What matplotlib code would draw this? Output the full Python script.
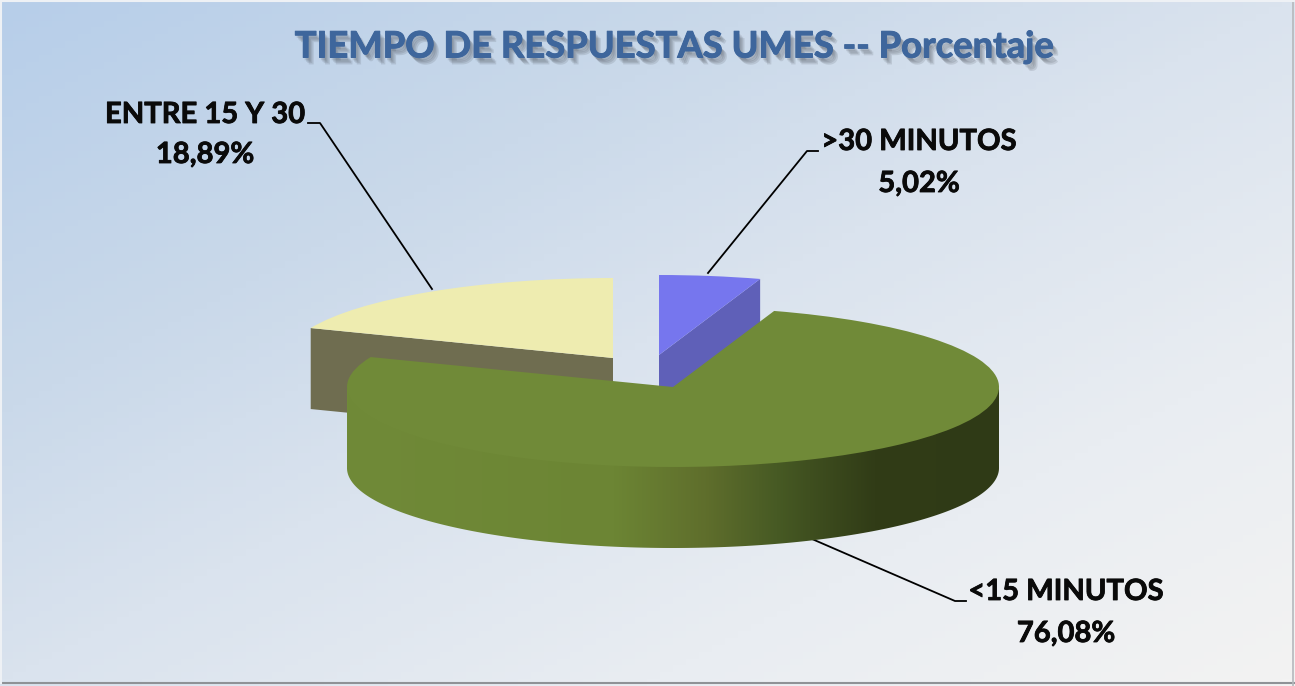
# Porcentaje de tiempos de respuesta, tarta 3D hecha a mano con ax.pie aplastado

import matplotlib
matplotlib.use('Agg')
import matplotlib.pyplot as plt
import matplotlib.patheffects as pe
from matplotlib.colors import LinearSegmentedColormap
from matplotlib.patches import Polygon
import numpy as np

labels = ['>30 MINUTOS', '<15 MINUTOS', 'ENTRE 15 Y 30']
shares = [5.02, 76.08, 18.89]
share_text = ['5,02%', '76,08%', '18,89%']
title = 'TIEMPO DE RESPUESTAS UMES -- Porcentaje'

top_colors = ['#7676ee', '#708a38', '#eeecb0']
wall_colors = ['#5f60b8', '#708a38', '#6f6d50']

W, H = 1295, 686
cx, cy, a, b, depth = 673., 387., 326., 80., 81.

plt.rcParams['font.family'] = ['Lato', 'DejaVu Sans']

fig = plt.figure(figsize=(W/100., H/100.), dpi=100)
ax = fig.add_axes([0, 0, 1, 1])

wedges, _ = ax.pie(shares, colors=top_colors, startangle=90, counterclock=False, radius=1.)
ax.set_aspect('auto')
ax.axis('off')

xlim = ((0-cx)/a, (W-cx)/a)
ylim = ((cy-H)/b, cy/b)


def px(x, y):
    return (x-cx)/a, (cy-y)/b


d = depth/b

# fondo degradado en diagonal
bg_cmap = LinearSegmentedColormap.from_list('bg', [(0, '#b7cee9'), (.3, '#cad9ea'), (.5, '#dae3ee'),
                                                   (.75, '#e9edf2'), (1, '#f3f3f3')])
yy, xx = np.mgrid[0:1:100j, 0:1:100j]
ax.imshow((xx+yy)/2., cmap=bg_cmap, extent=(xlim[0], xlim[1], ylim[0], ylim[1]), origin='upper',
          aspect='auto', zorder=0, vmin=0, vmax=1)

# porciones separadas
wedges[0].set_center(px(659, 355))
wedges[2].set_center(px(613, 358))
wedges[0].set_zorder(6)
wedges[2].set_zorder(4)
wedges[1].set_zorder(8)
for w in wedges:
    w.set_edgecolor('none')
    w.set_linewidth(0)

# paredes de los cortes
yellow = wedges[2]
t = np.radians(yellow.theta2)
x0, y0 = yellow.center
corner = (x0+np.cos(t), y0+np.sin(t))
ax.add_patch(Polygon([corner, (x0, y0), (x0, y0-d), (corner[0], corner[1]-d)],
                     fc=wall_colors[2], ec='none', zorder=3))

blue = wedges[0]
t = np.radians(blue.theta1)
x0, y0 = blue.center
corner = (x0+np.cos(t), y0+np.sin(t))
ax.add_patch(Polygon([corner, (x0, y0), (x0, y0-d), (corner[0], corner[1]-d)],
                     fc=wall_colors[0], ec='none', zorder=5))

# pared exterior de la porcion verde
theta = np.radians(np.linspace(-180, 0, 300))
xs, ys = np.cos(theta), np.sin(theta)
wall = Polygon(np.r_[np.c_[xs, ys+.04], np.c_[xs[::-1], ys[::-1]-d]], fc='none', ec='none', zorder=7)
ax.add_patch(wall)
side_cmap = LinearSegmentedColormap.from_list('side', [(0, '#708a38'), (.41, '#6c8534'), (.55, '#5f6e2c'),
                                                       (.66, '#475a24'), (.71, '#3f4f1f'), (.81, '#313c17'),
                                                       (1, '#2f3a16')])
im = ax.imshow(np.linspace(0, 1, 256)[None, :], cmap=side_cmap, extent=(-1, 1, -1-d, 1), aspect='auto', zorder=7)
im.set_clip_path(wall)

# lineas guia
guides = [[(708, 273), (807, 151), (818, 151)],
          [(812, 539), (955, 601), (966, 601)],
          [(432, 289), (320, 123), (308, 123)]]
for g in guides:
    g = np.array([px(*p) for p in g])
    ax.plot(g[:, 0], g[:, 1], color='k', lw=1.3, zorder=3)

# etiquetas
label_pos = [(919, 142), (1066, 592), (205, 115)]
value_pos = [(919, 184), (1066, 634), (205, 155)]
heavy = [pe.withStroke(linewidth=.6, foreground='#0a0a0a')]
for i in range(3):
    ax.text(*px(*label_pos[i]), labels[i], fontsize=21, fontweight='bold', color='#0a0a0a',
            ha='center', va='center', zorder=9, path_effects=heavy)
    ax.text(*px(*value_pos[i]), share_text[i], fontsize=21, fontweight='bold', color='#0a0a0a',
            ha='center', va='center', zorder=9, path_effects=heavy)

# titulo con sombra
shadow = [pe.SimplePatchShadow(offset=(o, -o-1), shadow_rgbFace='#40444c', alpha=.14)
          for o in (1, 2, 3, 4)]
ax.text(*px(674, 47), title, fontsize=26.2, fontweight='bold', color='#3e669c', ha='center', va='center',
        zorder=9, path_effects=shadow+[pe.withStroke(linewidth=.7, foreground='#3e669c')])

ax.set_xlim(xlim)
ax.set_ylim(ylim)

# borde: claro arriba e izquierda, gris abajo y derecha
ax.plot([0, 1], [.004, .004], transform=ax.transAxes, color='#8f9296', lw=1.5, zorder=10)
ax.plot([.9985, .9985], [0, 1], transform=ax.transAxes, color='#b5b8bc', lw=1.2, zorder=10)
ax.plot([0, 1], [.999, .999], transform=ax.transAxes, color='#eef1f5', lw=1.5, zorder=10)
ax.plot([.001, .001], [.004, 1], transform=ax.transAxes, color='#eef1f5', lw=1.5, zorder=10)

fig.savefig('out.png', dpi=100)
